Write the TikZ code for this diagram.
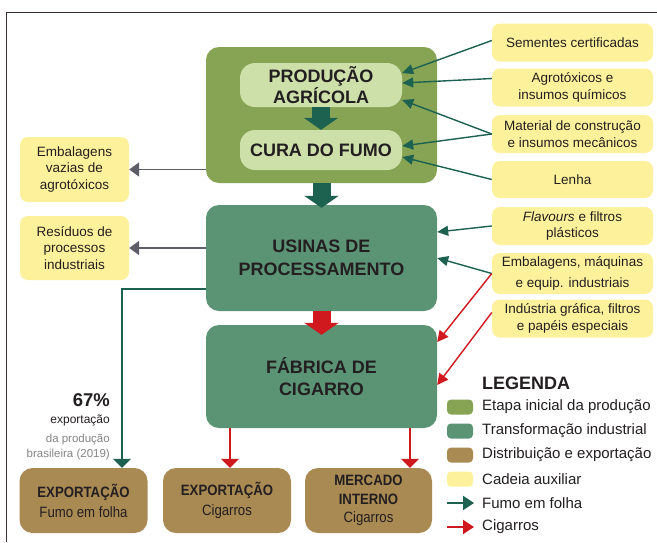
\documentclass[tikz,border=0pt]{standalone}
\usepackage{fontspec}
\setmainfont{Liberation Sans}
\newfontfamily\narrowfont[FakeStretch=0.88]{Liberation Sans}
\usetikzlibrary{arrows.meta}
\definecolor{olivegr}{HTML}{87A455}
\definecolor{lightgr}{HTML}{CEE0AA}
\definecolor{indgr}{HTML}{5B9375}
\definecolor{brownx}{HTML}{AA8A53}
\definecolor{yell}{HTML}{FDF29B}
\definecolor{darkgr}{HTML}{1D6150}
\definecolor{redx}{HTML}{D0181F}
\definecolor{grayarr}{HTML}{5E5E68}
\definecolor{txt}{HTML}{231F20}
\definecolor{graytxt}{HTML}{858585}
\definecolor{framec}{HTML}{3A2E2E}
\tikzset{
  base/.style={inner sep=0pt, align=center, text=txt},
  stagebox/.style={base, fill=olivegr, rounded corners=13pt},
  innerbox/.style={base, fill=lightgr, rounded corners=15pt, font=\fontsize{18}{21}\selectfont\bfseries},
  indbox/.style={base, fill=indgr, rounded corners=13pt, font=\fontsize{18}{22.5}\selectfont\bfseries},
  distbox/.style={base, fill=brownx, rounded corners=13pt, font=\narrowfont\fontsize{15}{20}\selectfont},
  auxbox/.style={base, fill=yell, rounded corners=8pt, font=\fontsize{13.5}{16.5}\selectfont},
  leafarrow/.style={darkgr, line width=1.4pt, -{Triangle[length=11pt,width=10pt]}},
  cigarrow/.style={redx, line width=1.4pt, -{Triangle[length=11pt,width=11pt]}},
  wastearrow/.style={grayarr, line width=1.8pt, -{Triangle[length=10pt,width=14pt]}},
  blockarrow/.style={line width=18pt, -{Triangle[length=12pt,width=34pt]}},
  legsw/.style={minimum width=26pt, minimum height=15pt, rounded corners=4pt, inner sep=0pt},
  legtext/.style={anchor=west, inner sep=0pt, text=txt, font=\fontsize{15}{18}\selectfont},
  legarrow/.style={line width=2pt, -{Triangle[length=11pt,width=14pt]}},
}
\begin{document}
\begin{tikzpicture}[x=1pt,y=-1pt]
\useasboundingbox[fill=white] (0,0) rectangle (657,542);
% frame
\draw[framec, line width=1pt] (657,12) -- (6,12) -- (6,542);

% main chain
\node[stagebox, minimum width=231pt, minimum height=136pt] (stage1) at (321.5,115) {};
\node[innerbox, minimum width=162pt, minimum height=44pt] (prod) at (321,85) {PRODUÇÃO\\AGRÍCOLA};
\node[innerbox, minimum width=162pt, minimum height=40pt] (cura) at (321,150) {CURA DO FUMO};
\node[indbox, fill=indgr, minimum width=231pt, minimum height=106pt] (usinas) at (321.5,258) {USINAS DE\\PROCESSAMENTO};
\node[indbox, fill=indgr, minimum width=231pt, minimum height=103pt] (fabrica) at (321.5,376.5) {FÁBRICA DE\\CIGARRO};

% distribution boxes
\node[distbox, minimum width=128pt, minimum height=65pt] (b1) at (83.5,500.5) {\textbf{EXPORTAÇÃO}\\Fumo em folha};
\node[distbox, minimum width=128pt, minimum height=65pt] (b2) at (227,500.5) {\textbf{EXPORTAÇÃO}\\Cigarros};
\node[distbox, minimum width=127pt, minimum height=65pt, font=\narrowfont\fontsize{15}{18.5}\selectfont] (b3) at (368.5,500.5) {\textbf{MERCADO}\\\textbf{INTERNO}\\Cigarros};

% left auxiliary boxes
\node[auxbox, minimum width=109pt, minimum height=65pt] (e1) at (74.5,169.5) {Embalagens\\vazias de\\agrotóxicos};
\node[auxbox, minimum width=109pt, minimum height=64pt] (e2) at (74.5,248) {Resíduos de\\processos\\industriais};

% right auxiliary boxes
\node[auxbox, minimum width=161pt, minimum height=38pt] (r1) at (572.5,42.5) {Sementes certificadas};
\node[auxbox, minimum width=161pt, minimum height=38pt] (r2) at (572.5,87.5) {Agrotóxicos e\\insumos químicos};
\node[auxbox, minimum width=161pt, minimum height=38pt] (r3) at (572.5,134) {Material de construção\\e insumos mecânicos};
\node[auxbox, minimum width=161pt, minimum height=37pt] (r4) at (572.5,179.5) {Lenha};
\node[auxbox, minimum width=161pt, minimum height=38pt] (r5) at (572.5,226) {\textit{Flavours} e filtros\\plásticos};
\node[auxbox, minimum width=161pt, minimum height=41pt, font=\fontsize{13.5}{20.5}\selectfont] (r6) at (572.5,273.5) {Embalagens, máquinas\\e equip. industriais};
\node[auxbox, minimum width=161pt, minimum height=38pt] (r7) at (572.5,318.5) {Indústria gráfica, filtros\\e papéis especiais};

% block arrows
\draw[blockarrow, darkgr] (prod.south) -- (cura.north);
\draw[blockarrow, darkgr] (stage1.south) -- ([yshift=-3pt]usinas.north);
\draw[blockarrow, redx] (usinas.south) -- ([yshift=-10pt]fabrica.north);

% inputs
\draw[leafarrow] ([yshift=2pt]r1.west) -- ([yshift=12pt]prod.east);
\draw[leafarrow] ([yshift=9pt]r2.west) -- ([yshift=2pt]prod.east);
\draw[leafarrow] (r3.west) -- ([yshift=-15pt]prod.east);
\draw[leafarrow] (r3.west) -- ([yshift=4pt]cura.east);
\draw[leafarrow] (r4.west) -- ([yshift=-7pt]cura.east);
\draw[leafarrow] (r5.west) -- ([yshift=26pt]usinas.east);
\draw[leafarrow] (r6.west) -- (usinas.east);
\draw[cigarrow] (r6.west) -- ([yshift=34.5pt]fabrica.east);
\draw[cigarrow] ([yshift=6pt]r7.west) -- ([yshift=-8.5pt]fabrica.east);

% waste
\draw[wastearrow] (e1.east -| stage1.west) -- (e1.east);
\draw[wastearrow] (e2.east -| usinas.west) -- (e2.east);

% outputs
\draw[darkgr, line width=1.4pt, -{Triangle[length=9pt,width=18pt]}] ([yshift=-31pt]usinas.west) -| ([xshift=38.5pt]b1.north);
\draw[redx, line width=1.4pt, -{Triangle[length=9pt,width=18pt]}] ([xshift=3pt]b2.north |- fabrica.south) -- ([xshift=3pt]b2.north);
\draw[redx, line width=1.4pt, -{Triangle[length=9pt,width=18pt]}] ([xshift=41.5pt]b3.north |- fabrica.south) -- ([xshift=41.5pt]b3.north);

% 67% annotation
\node[anchor=east, inner sep=0pt, text=txt, font=\bfseries\fontsize{18.5}{20}\selectfont] (pct) at (110,400) {67\%};
\node[anchor=east, inner sep=0pt, text=txt, font=\fontsize{12}{14}\selectfont] (pct2) at (110,420) {exportação};
\node[anchor=east, inner sep=0pt, text=graytxt, font=\fontsize{11.5}{13}\selectfont] (pct3) at (110,440) {da produção};
\node[anchor=east, inner sep=0pt, text=graytxt, font=\fontsize{11.5}{13}\selectfont] (pct4) at (110,455) {brasileira (2019)};

% legend
\node[anchor=west, inner sep=0pt, text=txt, font=\bfseries\fontsize{18}{20}\selectfont] (leg) at (482,383) {LEGENDA};
\node[legsw, fill=olivegr] (s1) at (460,407) {};
\node[legtext] (l1) at (482,407) {Etapa inicial da produção};
\node[legsw, fill=indgr] (s2) at (460,431) {};
\node[legtext] (l2) at (482,431) {Transformação industrial};
\node[legsw, fill=brownx] (s3) at (460,455) {};
\node[legtext] (l3) at (482,455) {Distribuição e exportação};
\node[legsw, fill=yell] (s4) at (460,479) {};
\node[legtext] (l4) at (482,479) {Cadeia auxiliar};
\coordinate (g1) at (447,503);
\coordinate (g2) at (474,503);
\draw[legarrow, darkgr] (g1) -- (g2);
\node[legtext] (l5) at (482,503) {Fumo em folha};
\coordinate (c1) at (447,527);
\coordinate (c2) at (474,527);
\draw[legarrow, redx] (c1) -- (c2);
\node[legtext] (l6) at (482,527) {Cigarros};
\end{tikzpicture}
\end{document}
